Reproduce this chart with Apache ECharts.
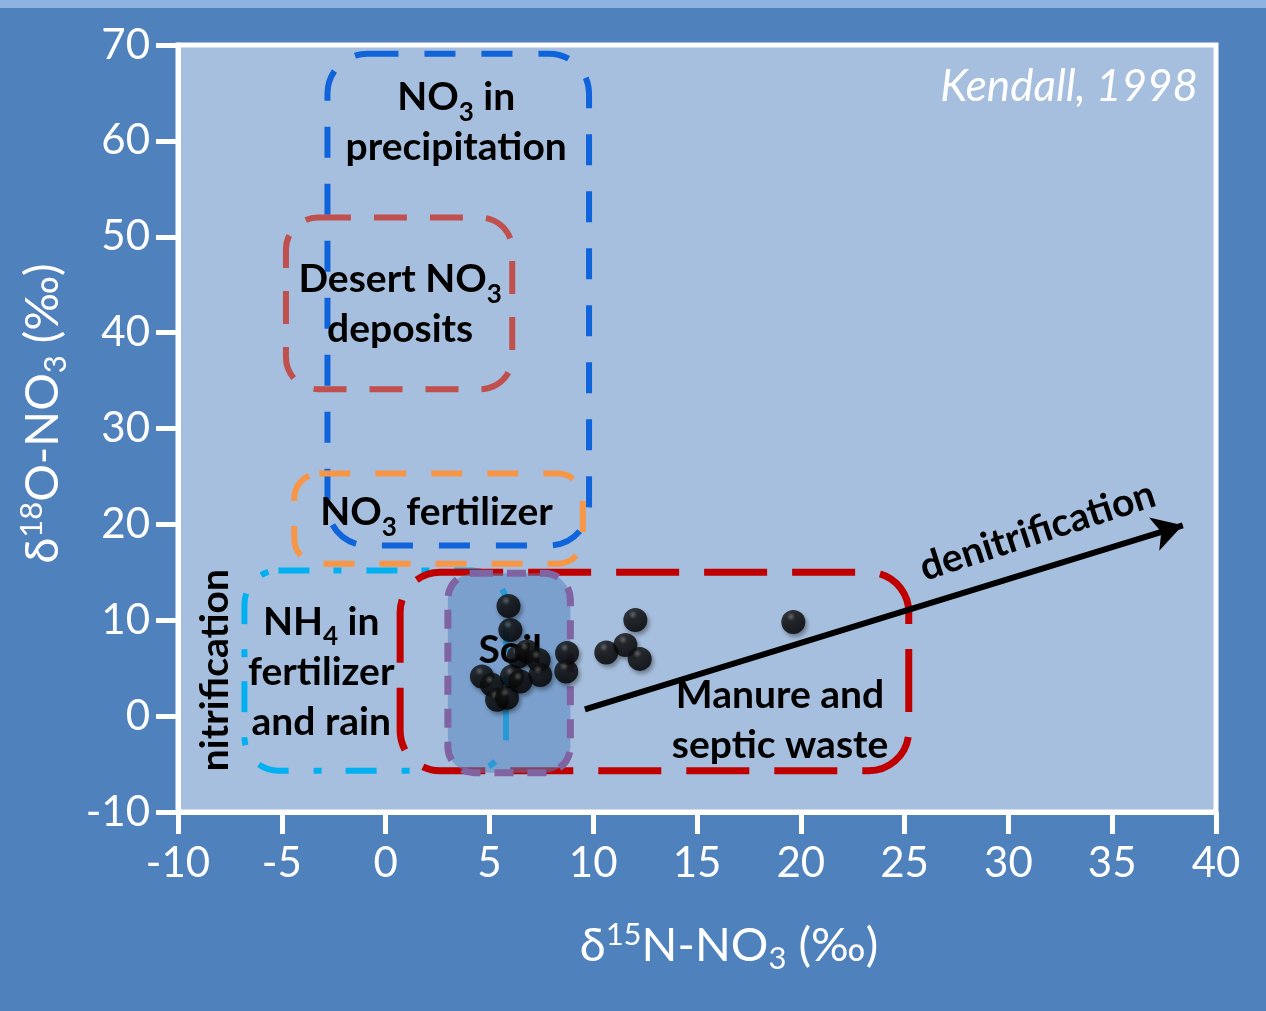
<!DOCTYPE html>
<html>
<head>
<meta charset="utf-8">
<style>
  html, body { margin: 0; padding: 0; background: #4f81bd; }
  #chart { width: 1266px; height: 1011px; }
</style>
<script src="https://cdn.jsdelivr.net/npm/echarts@6/dist/echarts.min.js"></script>
</head>
<body>
<div id="chart"></div>
<script>
// nitrate isotope samples (d15N, d18O)
const sampleN = [4.64, 5.12, 5.37, 5.85, 6.09, 6.41, 6.81, 7.37, 7.45, 6.49, 5.92, 6.01, 8.74, 8.70, 10.63, 11.55, 12.24, 12.03, 19.64];
const sampleO = [4.13, 3.26, 1.70, 1.91, 4.13, 6.21, 6.73, 5.86, 4.30, 3.60, 11.49, 8.99, 6.59, 4.65, 6.63, 7.43, 5.97, 10.03, 9.82];

// source fields (Kendall, 1998)
const sourceNames = ['NO3 in precipitation', 'Desert NO3 deposits', 'NO3 fertilizer', 'NH4 in fertilizer and rain', 'Manure and septic waste', 'Soil'];
const sourceNMin = [-2.8, -4.8, -4.4, -6.8, 0.7, 3.0];
const sourceNMax = [9.8, 6.1, 9.5, 5.8, 25.2, 8.9];
const sourceOMin = [17.8, 34.1, 15.9, -5.7, -5.7, -5.9];
const sourceOMax = [69.1, 52.0, 25.3, 15.2, 15.0, 14.9];

// annotation text and where it sits (data units)
const noteText = ['NO{s|3} in\nprecipitation', 'Desert NO{s|3}\ndeposits', 'NO{s|3} fertilizer', 'NH{s|4} in\nfertilizer\nand rain', 'Soil', 'Manure and\nseptic waste', 'nitrification', 'denitrification'];
const noteN = [3.4, 0.7, 2.45, -3.1, 6.0, 19.0, -8.2, 31.4];
const noteO = [61.9, 42.9, 21.2, 4.6, 6.9, -0.5, 4.8, 19.3];
const noteAngle = [0, 0, 0, 0, 0, 0, 90, 18];

const arrowN = [9.6, 38.4];
const arrowO = [0.7, 19.9];

const boxLook = [
  { color: '#1064db', dash: [31, 26], width: 6, r: 40 },
  { color: '#c0504d', dash: [33, 23], width: 6, r: 32 },
  { color: '#f79646', dash: [31, 25], width: 6, r: 25 },
  { color: '#00b0f0', dash: [31, 24, 8, 25], width: 6, r: 34 },
  { color: '#c00000', dash: [63, 25], width: 7, r: 40 },
  { color: '#8064a2', dash: [19, 14], width: 7, r: 26, fill: 'rgba(79,129,189,0.5)' }
];

const FONT = 'Lato';
const noteRich = {
  s: { fontFamily: FONT, fontWeight: 'bold', fontSize: 26, lineHeight: 20, padding: [30, 0, 0, 0], color: '#000' }
};
const nameRich = {
  sup: { color: '#fff', fontSize: 31, fontFamily: FONT, lineHeight: 30, padding: [0, 0, 22, 0] },
  sub: { color: '#fff', fontSize: 31, fontFamily: FONT, lineHeight: 30, padding: [26, 0, 0, 0] }
};

const chart = echarts.init(document.getElementById('chart'));

const options = {
  backgroundColor: '#4f81bd',
  animation: false,
  graphic: [
    { type: 'rect', left: 0, top: 0, shape: { width: 1266, height: 8 }, style: { fill: '#8db3e2' }, z: 10 },
    { type: 'text', right: 68, top: 65, z: 10, style: { text: 'Kendall, 1998', fill: '#fff', font: 'italic 44px Lato' } }
  ],
  grid: {
    left: 178, right: 50, top: 45, bottom: 199,
    show: true, backgroundColor: '#a7bfde', borderColor: '#fff', borderWidth: 5
  },
  xAxis: {
    type: 'value', min: -10, max: 40, interval: 5,
    axisLine: { show: true, onZero: false, lineStyle: { color: '#fff', width: 5 } },
    axisTick: { show: true, length: 22, lineStyle: { color: '#fff', width: 5 } },
    axisLabel: { color: '#fff', fontSize: 42, fontFamily: FONT, margin: 30 },
    splitLine: { show: false },
    name: 'δ{sup|15}N-NO{sub|3} (‰)',
    nameLocation: 'middle',
    nameGap: 110,
    nameTextStyle: { color: '#fff', fontSize: 47, fontFamily: FONT, padding: [0, 0, 0, 64], rich: nameRich }
  },
  yAxis: {
    type: 'value', min: -10, max: 70, interval: 10,
    axisLine: { show: true, onZero: false, lineStyle: { color: '#fff', width: 5 } },
    axisTick: { show: true, length: 22, lineStyle: { color: '#fff', width: 5 } },
    axisLabel: { color: '#fff', fontSize: 42, fontFamily: FONT, margin: 28 },
    splitLine: { show: false },
    name: 'δ{sup|18}O-NO{sub|3} (‰)',
    nameLocation: 'middle',
    nameGap: 112,
    nameTextStyle: { color: '#fff', fontSize: 47, fontFamily: FONT, padding: [0, 0, 0, 30], rich: nameRich }
  },
  series: [
    {
      type: 'custom',
      name: 'sources',
      encode: { x: [0, 2], y: [1, 3] },
      data: sourceNames.map((n, i) => [sourceNMin[i], sourceOMin[i], sourceNMax[i], sourceOMax[i], n]),
      renderItem(params, api) {
        const look = boxLook[params.dataIndex];
        const a = api.coord([api.value(0), api.value(3)]);
        const b = api.coord([api.value(2), api.value(1)]);
        return {
          type: 'rect',
          shape: { x: a[0], y: a[1], width: b[0] - a[0], height: b[1] - a[1], r: look.r },
          style: { fill: look.fill || 'none', stroke: look.color, lineWidth: look.width, lineDash: look.dash }
        };
      }
    },
    {
      type: 'custom',
      name: 'notes',
      encode: { x: 0, y: 1 },
      data: noteText.map((t, i) => [noteN[i], noteO[i]]),
      renderItem(params, api) {
        const i = params.dataIndex;
        const p = api.coord([api.value(0), api.value(1)]);
        return {
          type: 'text',
          x: p[0], y: p[1],
          rotation: noteAngle[i] * Math.PI / 180,
          style: {
            text: noteText[i], x: 0, y: 0,
            align: 'center', verticalAlign: 'middle',
            fill: '#000', fontFamily: FONT, fontWeight: 'bold', fontSize: 39, lineHeight: 50,
            rich: noteRich
          }
        };
      }
    },
    {
      type: 'line',
      name: 'denitrification',
      data: [],
      markLine: {
        silent: true,
        symbol: ['none', 'arrow'],
        symbolSize: [26, 30],
        label: { show: false },
        lineStyle: { color: '#000', width: 6, type: 'solid' },
        data: [[{ coord: [arrowN[0], arrowO[0]] }, { coord: [arrowN[1], arrowO[1]] }]]
      }
    },
    {
      type: 'scatter',
      name: 'samples',
      symbolSize: 24,
      data: sampleN.map((v, i) => [v, sampleO[i]]),
      itemStyle: {
        color: {
          type: 'radial', x: 0.4, y: 0.28, r: 0.72,
          colorStops: [
            { offset: 0, color: '#5c5c5c' },
            { offset: 0.25, color: '#111' },
            { offset: 1, color: '#000' }
          ]
        },
        shadowBlur: 4, shadowColor: 'rgba(0,0,0,0.45)', shadowOffsetX: 2, shadowOffsetY: 3
      }
    }
  ]
};

chart.setOption(options);
</script>
</body>
</html>
